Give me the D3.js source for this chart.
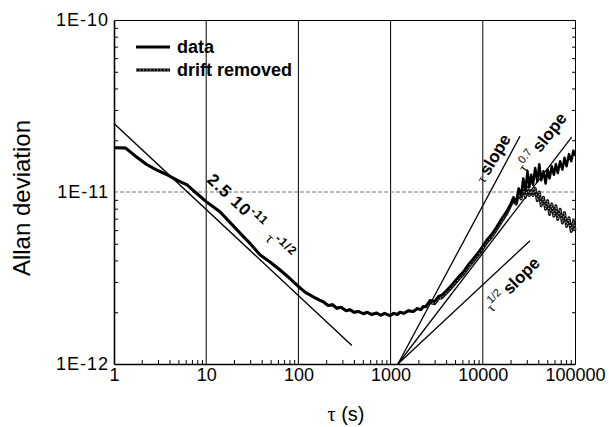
<!DOCTYPE html>
<html>
<head>
<meta charset="utf-8">
<script src="https://cdn.jsdelivr.net/npm/d3@7"></script>
<style>
  body { margin: 0; background: #fff; }
  text { font-family: "Liberation Sans", Arial, sans-serif; }
  .greek { font-family: "Liberation Serif", "DejaVu Serif", serif; }
</style>
</head>
<body>
<div id="my_dataviz"></div>
<script>
// averaging time tau (s)
var tau = [1, 1.34, 1.7, 2.28, 3, 3.76, 5, 6.2, 7.4, 10,
  14.1, 18, 23.2, 30, 38.4, 50, 63.3, 80, 104,
  120, 134, 150, 170, 186, 210, 235, 260, 290, 330,
  363, 400, 450, 506, 560, 620, 707, 780, 860, 985,
  1080, 1180, 1265, 1400, 1550, 1763, 1950, 2130, 2263, 2400,
  2566, 2675, 3000, 3300, 3600, 4060, 4500, 5000, 5500, 6150,
  7000, 7890, 9330, 11000, 12500, 14150, 16000, 18000,
  20000, 21500, 23000, 24500, 26000, 27500, 29000, 30500, 32000, 33500,
  35000, 37000, 39000, 41000, 43000, 45500, 48000, 50500, 53000, 56000,
  59000, 62000, 65000, 69000, 73000, 77000, 81000, 86000, 91000, 96000, 100000];

// Allan deviation of the raw data, units of 1e-12
var sigmaData = [18.1, 18.0, 16.2, 14.4, 13.3, 12.6, 11.6, 11.0, 10.1, 8.79,
  7.67, 6.68, 5.78, 5.01, 4.31, 3.89, 3.52, 3.16, 2.77,
  2.60, 2.52, 2.43, 2.35, 2.30, 2.19, 2.21, 2.11, 2.14, 2.04,
  2.07, 2.00, 2.02, 1.96, 2.00, 1.94, 1.98, 1.92, 1.97, 1.91,
  1.97, 1.94, 2.00, 1.97, 2.04, 2.02, 2.10, 2.07, 2.16, 2.15,
  2.26, 2.35, 2.32, 2.48, 2.52, 2.69, 2.85, 3.05, 3.24, 3.44,
  3.80, 4.11, 4.60, 5.25, 5.69, 6.28, 7.00, 7.67,
  8.51, 9.33, 8.71, 10.5, 9.55, 12.0, 10.2, 13.2, 10.7, 12.6,
  11.0, 13.8, 11.5, 14.5, 11.7, 13.2, 11.2, 13.5, 12.0, 14.1,
  12.6, 14.5, 12.9, 15.1, 13.5, 15.8, 14.1, 16.6, 15.1, 17.4, 16.2];

// same curve after drift removal; identical to the raw data below ~2500 s
var sigmaDrift = sigmaData.slice(0, 49).concat([
  2.26, 2.28, 2.24, 2.40, 2.43, 2.60, 2.75, 2.94, 3.12, 3.32,
  3.66, 3.96, 4.43, 5.06, 5.48, 6.05, 6.75, 7.40,
  8.32, 8.91, 8.51, 9.77, 9.12, 10.5, 9.33, 10.7, 9.55, 10.2,
  9.55, 10.5, 8.91, 10.0, 8.32, 9.33, 7.94, 8.91, 7.41, 8.51,
  7.24, 8.32, 6.92, 7.94, 6.61, 7.59, 6.31, 7.08, 5.89, 6.76, 6.03]);

var seriesNames = ["data", "drift removed"];

// white noise fit: 2.5e-11 * tau^-1/2
var fitCoef = 2.5e-11, fitExp = -0.5, fitTauEnd = 380;

// slope guides starting from (1200 s, 1e-12)
var slopeTau0 = 1200, slopeSigma0 = 1e-12;
var slopeExps = [1, 0.7, 0.5];
var slopeTauEnd = [25300, 92000, 32500];

var xTicks = [1, 10, 100, 1000, 10000, 100000];
var yTicks = [1e-12, 1e-11, 1e-10];
var yTickLabels = ["1E-12", "1E-11", "1E-10"];

var margin = {top: 20, right: 34, bottom: 63, left: 114},
    width = 609 - margin.left - margin.right,
    height = 427 - margin.top - margin.bottom;

var root = d3.select("#my_dataviz")
  .append("svg")
    .attr("width", 609)
    .attr("height", 427);

var svg = root.append("g")
    .attr("transform", "translate(" + margin.left + "," + margin.top + ")");

var x = d3.scaleLog().domain([1, 1e5]).range([0, width]);
var y = d3.scaleLog().domain([1e-12, 1e-10]).range([height, 0]);

function isDecade(d) {
  var l = Math.log10(d);
  return Math.abs(l - Math.round(l)) < 1e-6;
}
var xMinor = x.ticks().filter(function(d) { return !isDecade(d); });
var yMinor = y.ticks().filter(function(d) { return !isDecade(d); });

// grid: decades on x, 1E-11 on y
svg.selectAll(".vgrid")
  .data(xTicks.slice(1, -1))
  .enter().append("line")
    .attr("x1", function(d) { return x(d); })
    .attr("x2", function(d) { return x(d); })
    .attr("y1", 0)
    .attr("y2", height)
    .attr("stroke", "#000")
    .attr("stroke-width", 1);

svg.append("line")
  .attr("x1", 0).attr("x2", width)
  .attr("y1", y(1e-11)).attr("y2", y(1e-11))
  .attr("stroke", "#777")
  .attr("stroke-dasharray", "4,2")
  .attr("stroke-width", 1);

// minor ticks and frame
function styleAxis(a, w) {
  a.select(".domain").attr("stroke-width", w);
  a.selectAll(".tick line").attr("stroke-width", 1);
}
svg.append("g")
  .attr("transform", "translate(0," + height + ")")
  .call(d3.axisBottom(x).tickValues(xMinor).tickSizeInner(-4).tickSizeOuter(0).tickFormat(""))
  .call(styleAxis, 1.6);
svg.append("g")
  .call(d3.axisLeft(y).tickValues(yMinor).tickSizeInner(-4).tickSizeOuter(0).tickFormat(""))
  .call(styleAxis, 1.6);
svg.append("g")
  .attr("transform", "translate(" + width + ",0)")
  .call(d3.axisRight(y).tickValues(yMinor).tickSizeInner(-3).tickSizeOuter(0).tickFormat(""))
  .call(styleAxis, 1);
svg.append("g")
  .call(d3.axisTop(x).tickValues([]).tickSizeOuter(0))
  .call(styleAxis, 1);

// tick labels
svg.append("g")
  .attr("transform", "translate(0," + height + ")")
  .call(d3.axisBottom(x).tickValues(xTicks).tickSize(0).tickPadding(4).tickFormat(d3.format("d")))
  .call(function(a) {
    a.select(".domain").remove();
    a.selectAll("text").attr("font-size", 18).attr("font-family", "Liberation Sans, Arial, sans-serif").attr("fill", "#000");
  });
svg.append("g")
  .call(d3.axisLeft(y).tickValues(yTicks).tickSize(0).tickPadding(5)
    .tickFormat(function(d, i) { return yTickLabels[i]; }))
  .call(function(a) {
    a.select(".domain").remove();
    a.selectAll("text").attr("font-size", 18).attr("letter-spacing", 1)
      .attr("font-family", "Liberation Sans, Arial, sans-serif").attr("fill", "#000");
  });

// axis titles
root.append("text")
  .attr("transform", "translate(30,198) rotate(-90)")
  .attr("text-anchor", "middle")
  .attr("font-size", 24)
  .text("Allan deviation");

var xt = root.append("text")
  .attr("x", 346).attr("y", 421)
  .attr("text-anchor", "middle")
  .attr("font-size", 20);
xt.append("tspan").attr("class", "greek").text("τ");
xt.append("tspan").text(" (s)");

// reference lines
var line = d3.line()
  .x(function(d) { return x(d[0]); })
  .y(function(d) { return y(d[1]); });

svg.append("path")
  .datum([[1, fitCoef], [fitTauEnd, fitCoef * Math.pow(fitTauEnd, fitExp)]])
  .attr("d", line)
  .attr("stroke", "#000")
  .attr("stroke-width", 1.4)
  .attr("fill", "none");

svg.selectAll(".slope")
  .data(slopeExps)
  .enter().append("path")
    .attr("d", function(e, i) {
      var t1 = slopeTauEnd[i];
      return line([[slopeTau0, slopeSigma0], [t1, slopeSigma0 * Math.pow(t1 / slopeTau0, e)]]);
    })
    .attr("stroke", "#000")
    .attr("stroke-width", 1.3)
    .attr("fill", "none");

// curves
var driftPts = tau.map(function(t, i) { return [t, sigmaDrift[i] * 1e-12]; });
var dataPts = tau.map(function(t, i) { return [t, sigmaData[i] * 1e-12]; });

svg.append("path")
  .datum(driftPts)
  .attr("d", line)
  .attr("stroke", "#111")
  .attr("stroke-width", 3)
  .attr("stroke-linejoin", "round")
  .attr("fill", "none");
svg.append("path")
  .datum(driftPts)
  .attr("d", line)
  .attr("stroke", "#fff")
  .attr("stroke-width", 0.9)
  .attr("stroke-dasharray", "1,2.5")
  .attr("fill", "none");

svg.append("path")
  .datum(dataPts)
  .attr("d", line)
  .attr("stroke", "#000")
  .attr("stroke-width", 2.5)
  .attr("stroke-linejoin", "round")
  .attr("fill", "none");

// legend
var legY = [47, 70];
root.selectAll(".legline")
  .data(seriesNames)
  .enter().append("line")
    .attr("x1", 136).attr("x2", 170)
    .attr("y1", function(d, i) { return legY[i]; })
    .attr("y2", function(d, i) { return legY[i]; })
    .attr("stroke", "#000")
    .attr("stroke-width", 3);
root.append("line")
  .attr("x1", 136).attr("x2", 170).attr("y1", legY[1]).attr("y2", legY[1])
  .attr("stroke", "#fff").attr("stroke-width", 0.9).attr("stroke-dasharray", "1,2.5");
root.selectAll(".legtext")
  .data(seriesNames)
  .enter().append("text")
    .attr("x", 177)
    .attr("y", function(d, i) { return legY[i] + 5.5; })
    .attr("font-size", 18)
    .attr("font-weight", "bold")
    .text(function(d) { return d; });

// annotations
function note(px, py, angle) {
  return root.append("text")
    .attr("transform", "translate(" + px + "," + py + ") rotate(" + angle + ")")
    .attr("font-weight", "bold");
}
var n1 = note(206, 181, 43).attr("letter-spacing", 1);
n1.append("tspan").attr("font-size", 17).text("2.5 10");
n1.append("tspan").attr("font-size", 12).attr("dy", -7).text("-11");
n1.append("tspan").attr("class", "greek").attr("font-size", 15).attr("font-weight", "normal")
  .attr("dx", 10).attr("dy", 10).text("τ");
n1.append("tspan").attr("font-size", 12).attr("dy", -7).text("-1/2");

var n2 = note(484, 184, -59);
n2.append("tspan").attr("class", "greek").attr("font-size", 14).attr("font-weight", "normal").text("τ");
n2.append("tspan").attr("font-size", 17).attr("dx", 3).text("slope");

var n3 = note(525, 173, -52);
n3.append("tspan").attr("class", "greek").attr("font-size", 14).attr("font-weight", "normal").text("τ");
n3.append("tspan").attr("font-size", 11).attr("font-weight", "normal").attr("dy", -7).text("0.7");
n3.append("tspan").attr("font-size", 17).attr("dx", 4).attr("dy", 7).text("slope");

var n4 = note(492, 313, -45);
n4.append("tspan").attr("class", "greek").attr("font-size", 14).attr("font-weight", "normal").text("τ");
n4.append("tspan").attr("font-size", 11).attr("font-weight", "normal").attr("dy", -7).text("1/2");
n4.append("tspan").attr("font-size", 17).attr("dx", 4).attr("dy", 7).text("slope");
</script>
</body>
</html>
